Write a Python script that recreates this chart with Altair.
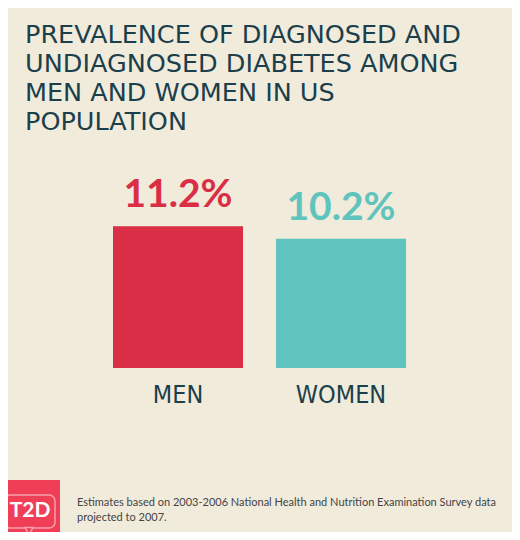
import altair as alt
import pandas as pd

# ---- data ----
categories = ["MEN", "WOMEN"]
values = [11.2, 10.2]
value_labels = ["11.2%", "10.2%"]
bar_colors = ["#d92e45", "#5fc4bd"]
title_lines = [
    "PREVALENCE OF DIAGNOSED AND",
    "UNDIAGNOSED DIABETES AMONG",
    "MEN AND WOMEN IN US",
    "POPULATION",
]
footnote_lines = [
    "Estimates based on 2003-2006 National Health and Nutrition Examination Survey data",
    "projected to 2007.",
]
logo_text = "T2D"

BG = "#f1ebdc"
DARK = "#1b3f4b"
LOGO_RED = "#ef3e56"

df = pd.DataFrame({"group": categories, "value": values, "label": value_labels})

x = alt.X(
    "group:N",
    axis=None,
    scale=alt.Scale(domain=categories, range=[105, 398], paddingInner=0.2025, paddingOuter=0),
)
y = alt.Y("value:Q", axis=None, scale=alt.Scale(domain=[0, 17.54], range=[228, 0]))
color = alt.Color("group:N", scale=alt.Scale(domain=categories, range=bar_colors), legend=None)

base = alt.Chart(df)

bars = base.mark_bar().encode(x=x, y=y, color=color)

value_text = base.mark_text(
    font="Lato", fontSize=39, fontWeight="bold", baseline="alphabetic", align="center", dy=-19
).encode(x=x, y=y, text="label:N", color=color)

cat_text = base.mark_text(
    font="DejaVu Sans Condensed, Liberation Sans Narrow, Roboto",
    fontSize=25,
    fontWeight=300,
    baseline="alphabetic",
    align="center",
    dy=35,
    color=DARK,
).encode(x=x, y=alt.YDatum(0), text="group:N")

logo_df = pd.DataFrame({"t": [logo_text]})
logo_base = alt.Chart(logo_df)

logo_box = logo_base.mark_rect(color=LOGO_RED).encode(
    x=alt.value(-8), x2=alt.value(52), y=alt.value(340), y2=alt.value(400)
)
bubble = logo_base.mark_rect(
    fill="transparent", stroke="#f7a0ab", strokeWidth=1.5, cornerRadius=6
).encode(x=alt.value(-4), x2=alt.value(47), y=alt.value(355), y2=alt.value(388))
tail = logo_base.mark_point(
    shape="triangle-down", size=70, filled=True, fill=LOGO_RED, stroke="#f7a0ab", strokeWidth=1.5, opacity=1
).encode(x=alt.value(21), y=alt.value(391))
logo_label = logo_base.mark_text(
    font="Lato", fontSize=21, fontWeight="bold", color="white", baseline="alphabetic", align="center"
).encode(x=alt.value(22), y=alt.value(377), text="t:N")

foot = alt.Chart(pd.DataFrame({"t": [0]})).mark_text(
    text=footnote_lines,
    font="Lato",
    fontSize=11,
    color="#444444",
    align="left",
    baseline="alphabetic",
    lineHeight=15,
).encode(x=alt.value(69), y=alt.value(366))

chart = (
    alt.layer(bars, value_text, cat_text, logo_box, bubble, tail, logo_label, foot)
    .properties(
        width=504,
        height=392,
        padding={"top": 132, "left": 0, "right": 0, "bottom": 0},
        autosize=alt.AutoSizeParams(type="none"),
        background=BG,
        title=alt.TitleParams(
            text=title_lines,
            anchor="start",
            frame="group",
            font="DejaVu Sans",
            fontSize=25.5,
            fontWeight="normal",
            color=DARK,
            lineHeight=29.3,
            offset=4,
            dx=17,
        ),
    )
    .configure_view(strokeWidth=0)
)

chart.save("out.html", embed_options={"renderer": "svg", "actions": False})
